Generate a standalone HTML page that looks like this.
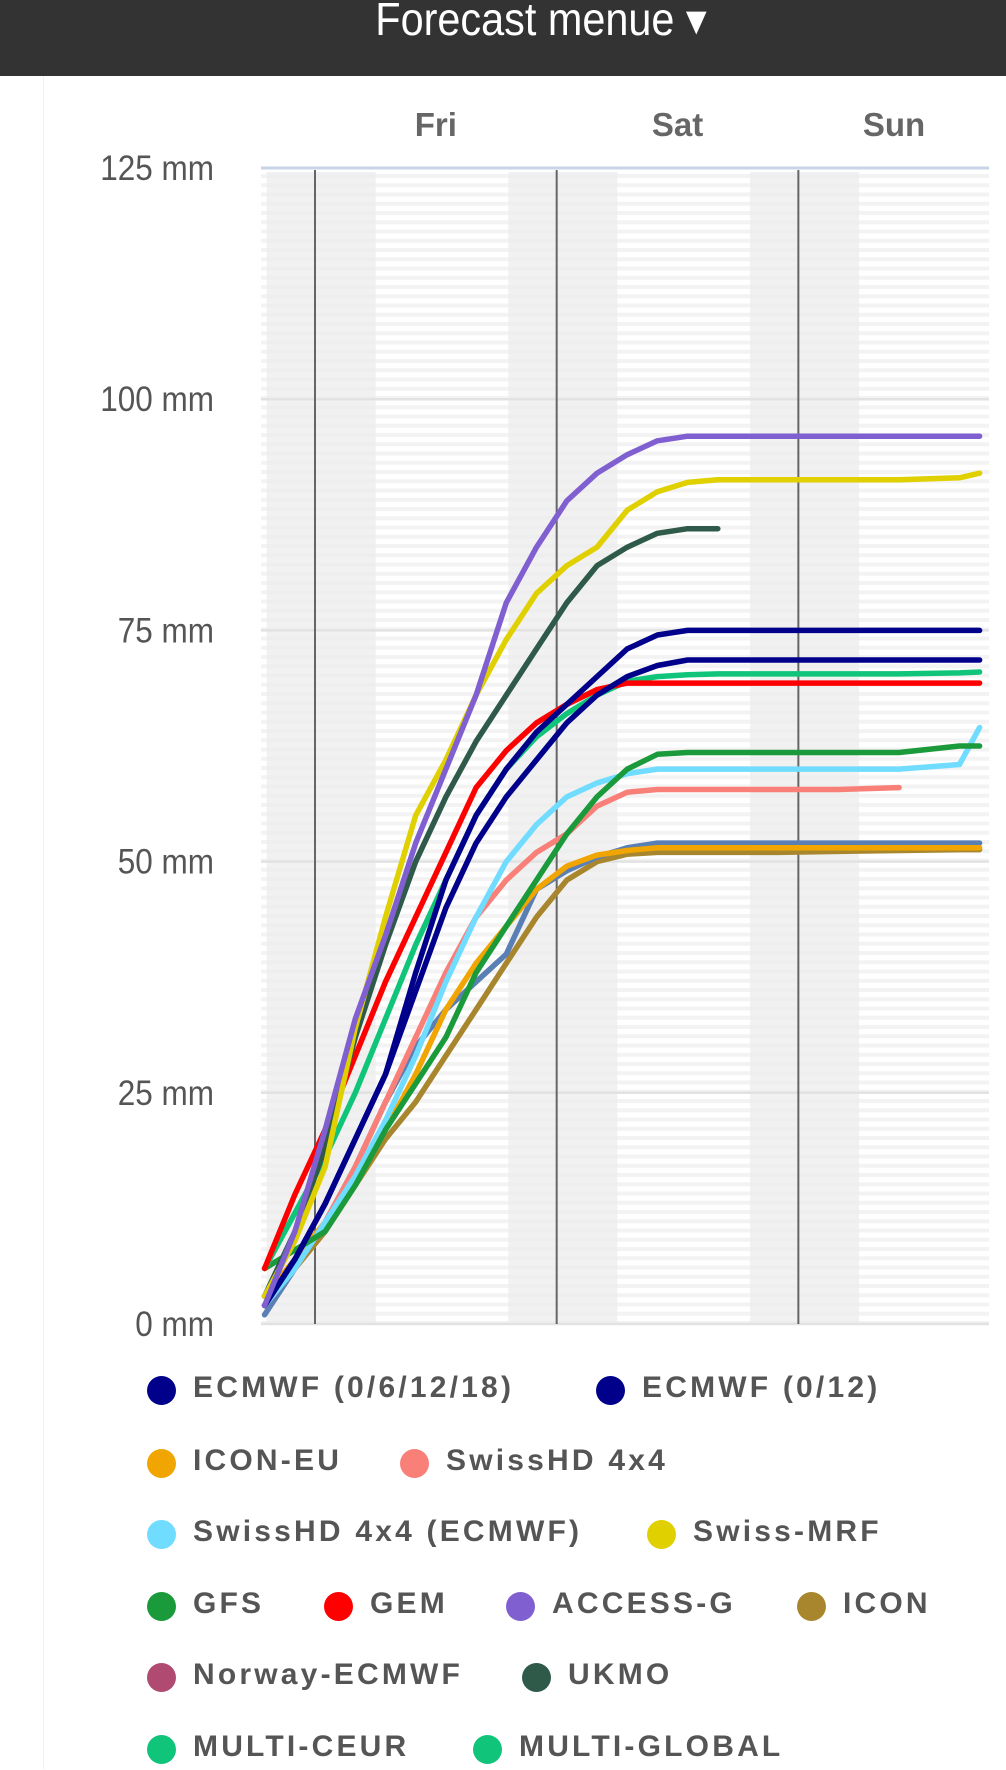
<!DOCTYPE html>
<html><head><meta charset="utf-8"><style>
body{margin:0;width:1006px;height:1769px;overflow:hidden;background:#fff;font-family:"Liberation Sans",sans-serif}
#hdr{position:absolute;left:0;top:0;width:1006px;height:76px;background:#333}
#hdr span{position:absolute;left:38px;width:1006px;top:-8px;text-align:center;color:#fff;font-size:46px;transform:scaleX(0.9)}
.lg{position:absolute;height:40px;font-size:30px;font-weight:bold;color:#555;letter-spacing:3.2px;white-space:nowrap}
.lg i{position:absolute;left:-46px;top:5px;width:29px;height:29px;border-radius:50%}
</style></head><body>
<div id="hdr"><span>Forecast menue ▾</span></div>
<div style="position:absolute;left:43px;top:76px;width:1px;height:1693px;background:#f0f0f0"></div>
<svg id="chart" width="1006" height="1360" style="position:absolute;left:0;top:0"></svg>
<div id="legend"></div>
<script>
const hours=[-5,-2,1,4,7,10,13,16,19,22,25,28,31,34,37,40,46,52,58,64,66];
const yTicks=[0,25,50,75,100,125];
const dayLabels=["Fri","Sat","Sun"];
const dayStarts=[0,24,48];
const labelHours=[12,36,57.5];
const sAccess=[2,10,21,33,42,52,60,68,78,84,89,92,94,95.5,96,96,96,96,96,96,96];
const sSwissMRF=[3,9,17,32,44,55,61,68,74,79,82,84,88,90,91,91.3,91.3,91.3,91.3,91.5,92];
const sUKMO=[3,10,19,31,41,50,57,63,68,73,78,82,84,85.5,86,86,null,null,null,null,null];
const sEcmwf6=[2,7,13,20,27,38,48,55,60,64,67,70,73,74.5,75,75,75,75,75,75,75];
const sEcmwf12=[2,7,13,20,27,36,45,52,57,61,65,68,70,71.2,71.8,71.8,71.8,71.8,71.8,71.8,71.8];
const sGEM=[6,14,21,29,37,44,51,58,62,65,67,68.6,69.3,69.3,69.3,69.3,69.3,69.3,69.3,69.3,69.3];
const sMulti=[6,12,18,25,33,41,48,55,60,63.5,66,68,69.5,70,70.2,70.3,70.3,70.3,70.3,70.4,70.5];
const sGFS=[6,8,10,15,21,26,31,38,43,48,53,57,60,61.6,61.8,61.8,61.8,61.8,61.8,62.5,62.5];
const sSwissHDE=[2,6,11,16,22,29,37,44,50,54,57,58.5,59.5,60,60,60,60,60,60,60.5,64.5];
const sSwissHD=[2,6,11,17,24,31,38,44,48,51,53,56,57.5,57.8,57.8,57.8,57.8,57.8,58,null,null];
const sIconEU=[3,7,11,16,21,27,34,39,43,47,49.5,50.7,51.2,51.5,51.5,51.5,51.5,51.5,51.5,51.5,51.5];
const sNorway=[1,6,11,17,24,30,34,37,40,47,49,50.5,51.5,52,52,52,52,52,52,52,52];
const sIcon=[2,6,10,15,20,24,29,34,39,44,48,50,50.8,51,51,51,51,51.1,51.2,51.3,51.3];
const series=[
["icon",sIcon,"#a8862e"],["norway-ecmwf",sNorway,"#5a7fb5"],["icon-eu",sIconEU,"#f0a500"],
["swisshd",sSwissHD,"#f88078"],["swisshd-ecmwf",sSwissHDE,"#70dcff"],["gfs",sGFS,"#1a9a3a"],
["multi",sMulti,"#10c47a"],["gem",sGEM,"#ff0000"],["ecmwf-0-12",sEcmwf12,"#00008b"],
["ecmwf-0-6-12-18",sEcmwf6,"#00008b"],["ukmo",sUKMO,"#2f5a4a"],["swiss-mrf",sSwissMRF,"#e0d000"],["access-g",sAccess,"#8060d0"]];
const X0=261,X1=989,Y0=1324,Y125=168;
const xs=h=>315+h*10.07;
const ys=v=>Y0-(v/125)*(Y0-Y125);
const svg=document.getElementById('chart');const NS="http://www.w3.org/2000/svg";
function mk(t,a){const e=document.createElementNS(NS,t);for(const k in a)e.setAttribute(k,a[k]);svg.appendChild(e);return e;}
for(let y=Y125+6;y<Y0;y+=9.25){const r=mk('rect',{x:X0,y:y,width:X1-X0,height:4,fill:'#f3f3f3'});

}
dayStarts.forEach(d=>{const r=mk('rect',{x:xs(d-4.8),y:Y125+4,width:109,height:Y0-Y125-4,fill:'#ececec',opacity:0.75});

});
yTicks.forEach(v=>{const l=mk('line',{x1:X0,x2:X1,y1:ys(v),y2:ys(v),stroke:v==125?'#c8d4e8':'#e2e2e2','stroke-width':v==125?3:2.5});


const t=mk('text',{x:214,y:ys(v)+12,'text-anchor':'end','font-size':35,fill:'#555','font-family':'Liberation Sans',transform:'translate(214,0) scale(0.9,1) translate(-214,0)'});t.textContent=v+" mm";

});
dayStarts.forEach((d,i)=>{const l=mk('line',{x1:xs(d),x2:xs(d),y1:Y125+2,y2:Y0,stroke:'#666','stroke-width':2});


const t=mk('text',{x:xs(labelHours[i]),y:136,'text-anchor':'middle','font-size':33,'font-weight':'bold',fill:'#666','font-family':'Liberation Sans'});t.textContent=dayLabels[i];

});
series.forEach(s=>{let d="";let pen=false;s[1].forEach((v,i)=>{if(v==null){pen=false;return;}d+=(pen?"L":"M")+xs(hours[i]).toFixed(1)+","+ys(v).toFixed(1);pen=true;});
const p=mk('path',{d:d,fill:'none',stroke:s[2],'stroke-width':5.5,'stroke-linejoin':'round','stroke-linecap':'round'});

});
const legend=[["ECMWF (0/6/12/18)","#00008b",161,1387],["ECMWF (0/12)","#00008b",610,1387],["ICON-EU","#f0a500",161,1460],["SwissHD 4x4","#f88078",414,1460],["SwissHD 4x4 (ECMWF)","#70dcff",161,1531],["Swiss-MRF","#e0d000",661,1531],["GFS","#1a9a3a",161,1603],["GEM","#ff0000",338,1603],["ACCESS-G","#8060d0",520,1603],["ICON","#a8862e",811,1603],["Norway-ECMWF","#b04a70",161,1674],["UKMO","#2f5a4a",536,1674],["MULTI-CEUR","#10c47a",161,1746],["MULTI-GLOBAL","#10c47a",487,1746]];
const lg=document.getElementById('legend');
legend.forEach(e=>{const d=document.createElement('div');d.className='lg';d.style.left=(e[2]+32)+'px';d.style.top=(e[3]-16)+'px';
d.innerHTML='<i style="background:'+e[1]+'"></i>'+e[0];


lg.appendChild(d);});
</script>
</body></html>
